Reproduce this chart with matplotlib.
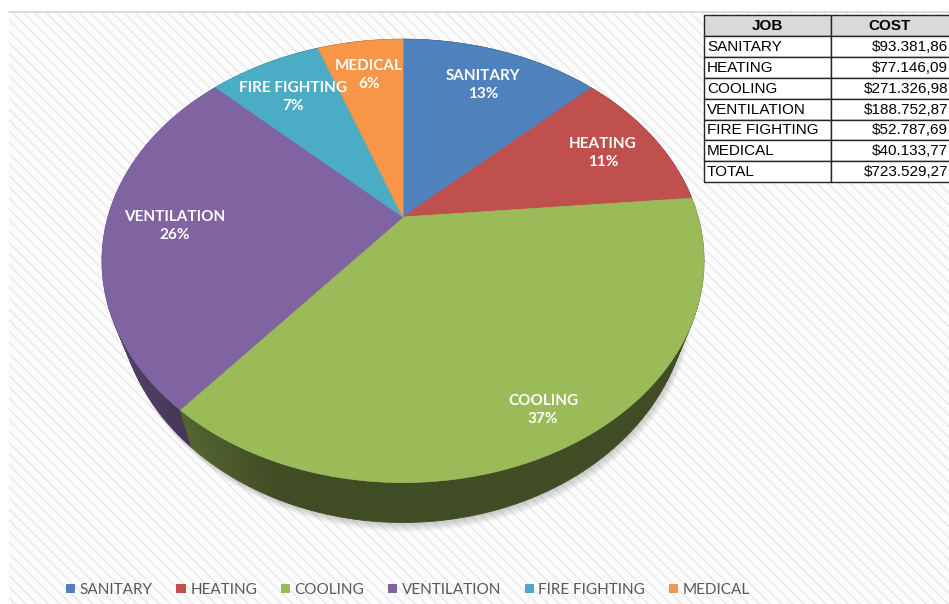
import numpy as np
import matplotlib
matplotlib.use('Agg')
import matplotlib.pyplot as plt
from matplotlib.colors import to_rgb
from matplotlib.patches import Polygon, Rectangle, Patch

jobs = ['SANITARY', 'HEATING', 'COOLING', 'VENTILATION', 'FIRE FIGHTING', 'MEDICAL']
costs = [93381.86, 77146.09, 271326.98, 188752.87, 52787.69, 40133.77]
cost_total = 723529.27
colors = ['#4F81BD', '#C0504D', '#9BBB59', '#8064A2', '#4BACC6', '#F79646']

# where the in-slice labels sit (pixels)
label_xy = [(483, 85), (603, 153), (543, 410), (175, 226), (293, 97), (369, 75)]

W, H = 949, 604
# tilted disc seen in perspective, all in pixels
CX, CY = 403, 217
RX, RZ = 295, 213
PERSP = 0.198
DEPTH = 32
TAPER = 0.948   # the wall narrows towards the bottom


def proj(phi, drop=0.0):
    X, Z = np.sin(phi), np.cos(phi)
    w = 1 + PERSP * Z
    x = CX + RX * X / w
    y = CY - RZ * Z / w
    if drop:
        x = CX + TAPER * (x - CX)
        y = y + drop / w
    return x, y


def pct_labels(vals):
    # largest remainder, so the labels add up to 100
    raw = np.asarray(vals) / np.sum(vals) * 100
    out = np.floor(raw).astype(int)
    rest = 100 - out.sum()
    out[np.argsort(raw - out)[::-1][:rest]] += 1
    return out


def euro(v):
    s = f'{v:,.2f}'
    return '$' + s.replace(',', ' ').replace('.', ',').replace(' ', '.')


fig = plt.figure(figsize=(W / 100, H / 100), dpi=100)
ax = fig.add_axes([0, 0, 1, 1])
ax.set_xlim(0, W)
ax.set_ylim(H, 0)
ax.axis('off')

# striped plot area
plt.rcParams['hatch.linewidth'] = 1.0
ax.add_patch(Rectangle((9, 12), W - 9, H - 12, facecolor='#fcfcfc', edgecolor='#e8e8e8',
                       hatch='\\\\\\', lw=0, zorder=0))
ax.plot([9, W], [12, 12], color='#d6d6d6', lw=1.2, zorder=1)

# soft drop shadow under the pie
ring = np.linspace(0, 2 * np.pi, 721)
bx, by = proj(ring, DEPTH)
for k in range(1, 11):
    ax.add_patch(Polygon(np.c_[bx + 0.4 * k, by + 0.9 * k], closed=True, fc='#707070',
                         alpha=0.04, lw=0, zorder=2))

frac = np.concatenate([[0], np.cumsum(costs)]) / np.sum(costs)
edges = 2 * np.pi * frac

# outer wall, drawn back to front
quads = []
for i in range(len(costs)):
    a = np.linspace(edges[i], edges[i + 1], int(300 * (frac[i + 1] - frac[i])) + 3)
    for p0, p1 in zip(a[:-1], a[1:]):
        pm = 0.5 * (p0 + p1)
        shade = 0.41 + 0.45 * max(0.0, -np.sin(pm) - 0.35)
        x0, y0 = proj(p0)
        x1, y1 = proj(p1)
        x2, y2 = proj(p1, DEPTH)
        x3, y3 = proj(p0, DEPTH)
        c = np.array(to_rgb(colors[i])) * shade
        quads.append((np.cos(pm), [[x0, y0], [x1, y1], [x2, y2], [x3, y3]], c))
quads.sort(key=lambda q: -q[0])
for _, pts, c in quads:
    ax.add_patch(Polygon(pts, closed=True, fc=c, ec=c, lw=0.6, zorder=3))

# top faces
for i in range(len(costs)):
    a = np.linspace(edges[i], edges[i + 1], int(400 * (frac[i + 1] - frac[i])) + 3)
    x, y = proj(a)
    pts = np.c_[np.r_[CX, x], np.r_[CY, y]]
    ax.add_patch(Polygon(pts, closed=True, fc=colors[i], ec=colors[i], lw=0.5, zorder=4))

pcts = pct_labels(costs)
for (lx, ly), job, p in zip(label_xy, jobs, pcts):
    ax.text(lx, ly, f'{job}\n{p}%', ha='center', va='center', multialignment='center',
            color='white', fontsize=11, fontweight='bold', family='Lato',
            linespacing=1.45, zorder=5)

# cost table
tx = [704, 831, 952]
ty0, rh = 15, 20.9
rows = [('JOB', 'COST')] + [(j, euro(c)) for j, c in zip(jobs, costs)] + [('TOTAL', euro(cost_total))]
for r, (job, cost) in enumerate(rows):
    y = ty0 + r * rh
    head = r == 0
    for c in range(2):
        ax.add_patch(Rectangle((tx[c], y), tx[c + 1] - tx[c], rh,
                               fc='#d9d9d9' if head else 'white', ec='#262626', lw=1, zorder=6))
    yc = y + rh / 2 + 0.5
    kw = dict(va='center', fontsize=11, family='Liberation Sans', color='black', zorder=7)
    if head:
        ax.text((tx[0] + tx[1]) / 2, yc, job, ha='center', fontweight='bold', **kw)
        ax.text((tx[1] + tx[2]) / 2 - 2, yc, cost, ha='center', fontweight='bold', **kw)
    else:
        ax.text(tx[0] + 3, yc, job, ha='left', **kw)
        ax.text(948, yc, cost, ha='right', **kw)

handles = [Patch(fc=c, ec='none', label=j) for c, j in zip(colors, jobs)]
ax.legend(handles=handles, loc='center', bbox_to_anchor=(408 / W, 1 - 590 / H), ncol=6,
          frameon=False, prop={'family': 'Lato', 'size': 11}, labelcolor='#595959',
          handlelength=0.6, handleheight=0.6, handletextpad=0.3, columnspacing=1.55)

fig.savefig('out.png', dpi=100)
